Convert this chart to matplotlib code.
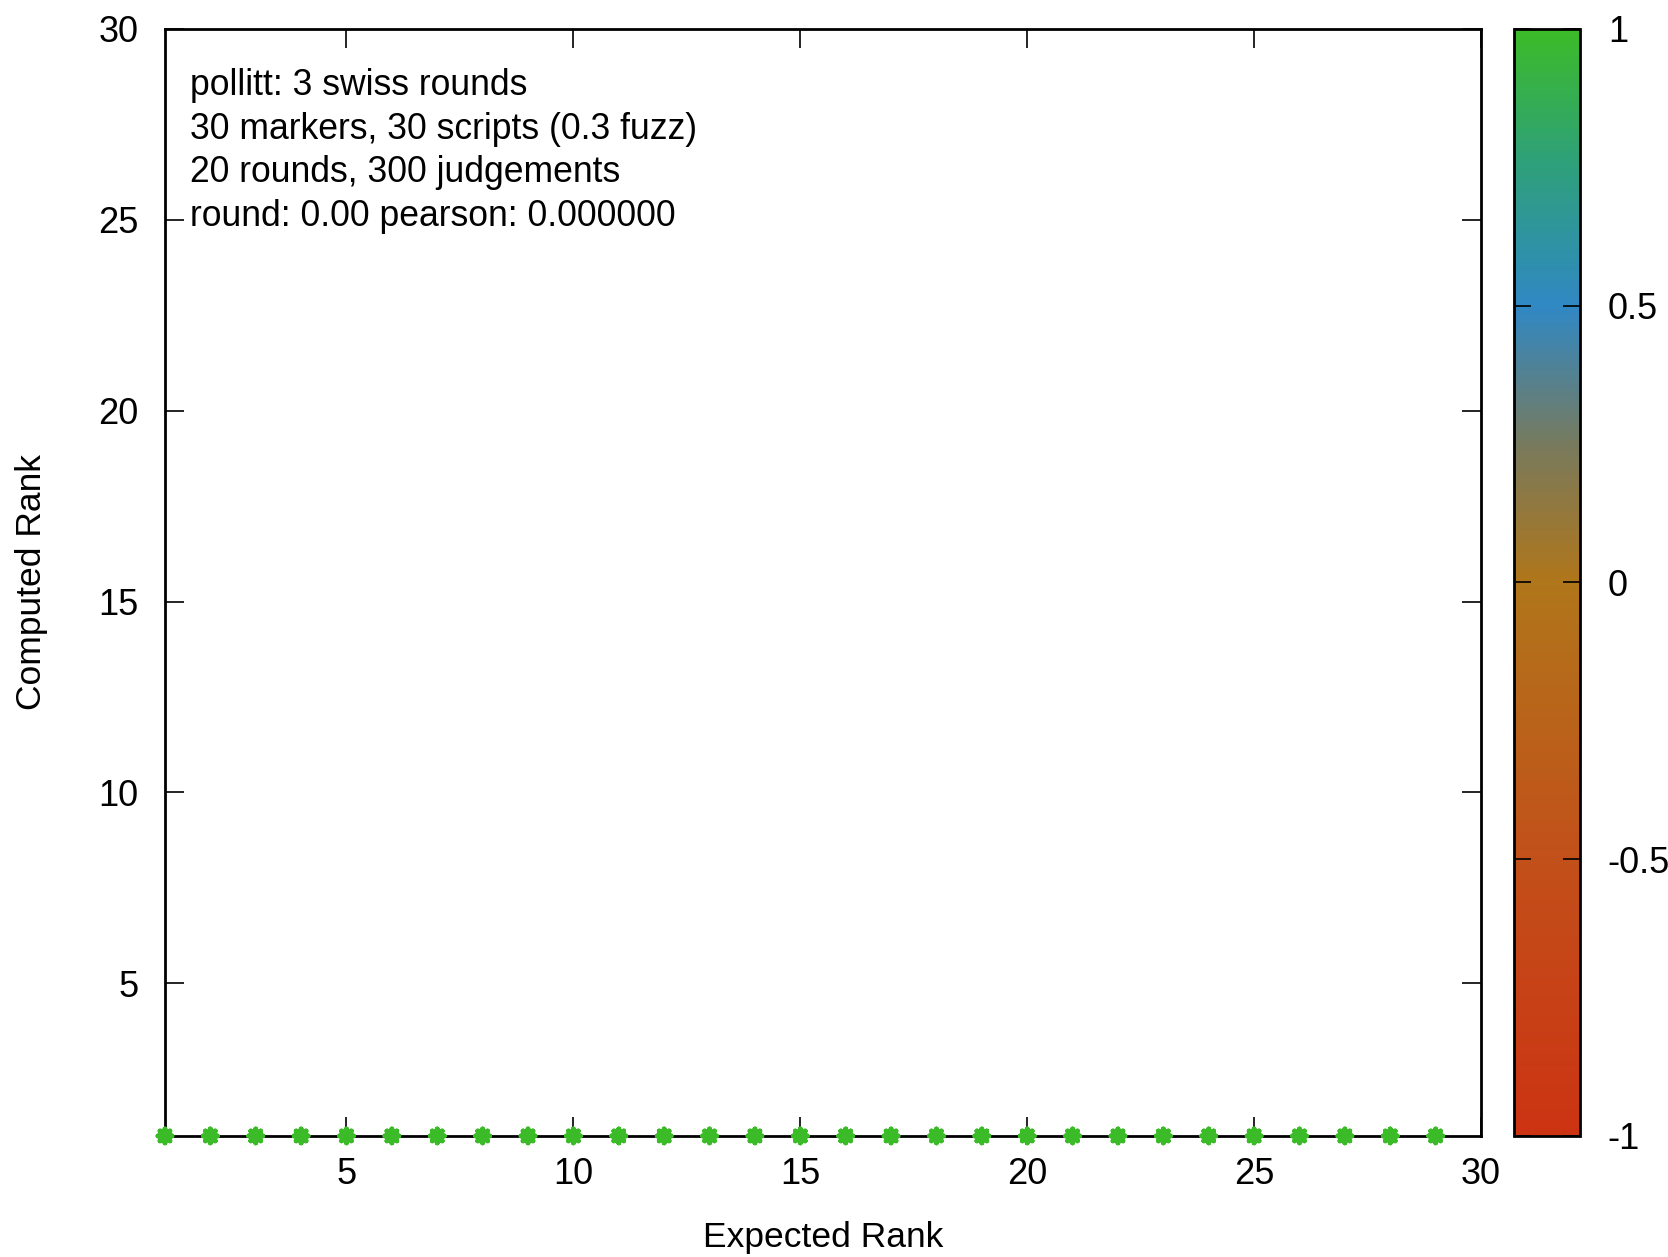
import matplotlib
matplotlib.use("Agg")
import matplotlib.pyplot as plt
from matplotlib.colors import LinearSegmentedColormap, Normalize

plt.rcParams["font.family"] = ["Liberation Sans", "DejaVu Sans"]

expected = [1, 2, 3, 4, 5, 6, 7, 8, 9, 10, 11, 12, 13, 14, 15,
            16, 17, 18, 19, 20, 21, 22, 23, 24, 25, 26, 27, 28, 29]
computed = [1, 1, 1, 1, 1, 1, 1, 1, 1, 1, 1, 1, 1, 1, 1,
            1, 1, 1, 1, 1, 1, 1, 1, 1, 1, 1, 1, 1, 1]
score = [1, 1, 1, 1, 1, 1, 1, 1, 1, 1, 1, 1, 1, 1, 1,
         1, 1, 1, 1, 1, 1, 1, 1, 1, 1, 1, 1, 1, 1]
info_lines = [
    "pollitt: 3 swiss rounds",
    "30 markers, 30 scripts (0.3 fuzz)",
    "20 rounds, 300 judgements",
    "round: 0.00 pearson: 0.000000",
]
ticks = [5, 10, 15, 20, 25, 30]
cb_ticks = [-1, -0.5, 0, 0.5, 1]

cmap = LinearSegmentedColormap.from_list(
    "rank",
    [(0.0, "#cc3312"), (0.25, "#c2501a"), (0.5, "#b0761a"),
     (0.62, "#7a7a5a"), (0.75, "#3088c4"), (0.88, "#2ea07a"), (1.0, "#3cbb28")],
)
norm = Normalize(-1, 1)

fig = plt.figure(figsize=(16.68, 12.57), dpi=100)
ax = fig.add_axes([0.0989, 0.0963, 0.789, 0.8807])
cax = fig.add_axes([0.9077, 0.0963, 0.0396, 0.8807])

ax.scatter(expected, computed, c=score, cmap=cmap, norm=norm,
           marker=(8, 2, 0), s=100, linewidths=3.5, zorder=3, clip_on=False)

ax.set_xlim(1, 30)
ax.set_ylim(1, 30)
ax.set_xticks(ticks)
ax.set_yticks(ticks)
ax.tick_params(direction="in", length=14, width=1.2, labelsize=26,
               top=True, right=True)
ax.tick_params(axis="x", pad=15)
ax.tick_params(axis="y", pad=19)
for s in ax.spines.values():
    s.set_linewidth(2)
ax.set_xlabel("Expected Rank", fontsize=25.5, labelpad=21)
ax.set_ylabel("Computed Rank", fontsize=25.5, labelpad=36)

for i, line in enumerate(info_lines):
    ax.text(0.019, 0.949 - i * 0.0395, line, transform=ax.transAxes,
            fontsize=25.6, va="center", ha="left")

sm = plt.cm.ScalarMappable(cmap=cmap, norm=norm)
cb = fig.colorbar(sm, cax=cax)
cb.set_ticks(cb_ticks)
cb.set_ticklabels(["-1", "-0.5", "0", "0.5", "1"])
cb.outline.set_linewidth(2)
cax.tick_params(direction="in", length=12, width=1.2, labelsize=26,
                left=True, right=True, pad=20)

fig.savefig("out.png", dpi=100)
